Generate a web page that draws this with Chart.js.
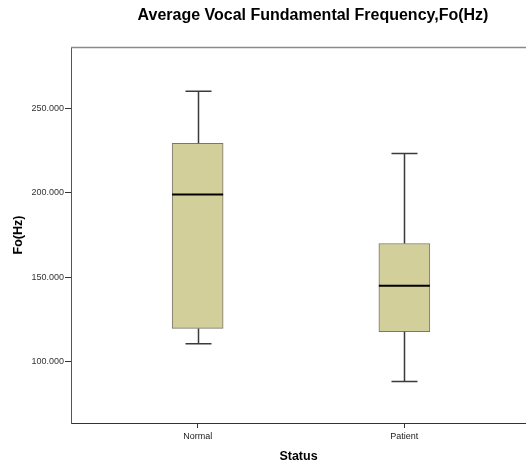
<!DOCTYPE html>
<html>
<head>
<meta charset="utf-8">
<title>Average Vocal Fundamental Frequency</title>
<script src="https://cdn.jsdelivr.net/npm/chart.js@4.4.0/dist/chart.umd.min.js"></script>
<style>
  html, body { margin: 0; padding: 0; background: #fff; }
  #wrap { width: 526px; height: 464px; }
</style>
</head>
<body>
<div id="wrap"><canvas id="boxChart" width="526" height="464"></canvas></div>
<script>
// box plot values
const categories = ['Normal', 'Patient'];
const positions = [1, 2];
const mins = [110.8, 88.5];
const q1s = [119.8, 117.9];
const medians = [199.0, 145.1];
const q3s = [229.3, 170.0];
const maxs = [260.0, 223.2];
const yTicks = [100, 150, 200, 250];

const chartTitle = 'Average Vocal Fundamental Frequency,Fo(Hz)';
const font = "'Liberation Sans', Arial, sans-serif";

const ctx = document.getElementById('boxChart').getContext('2d');

// whiskers, caps and medians on top of the floating bars
const boxExtras = {
  id: 'boxExtras',
  afterDatasetsDraw(chart) {
    const { ctx, scales: { x, y } } = chart;
    const meta = chart.getDatasetMeta(0);
    ctx.save();
    positions.forEach((p, i) => {
      const cx = Math.round(x.getPixelForValue(p)) + 0.5;
      const bar = meta.data[i];
      const half = bar.width / 2;
      const cap = 13;

      ctx.strokeStyle = '#3a3a3a';
      ctx.lineWidth = 1.5;
      ctx.beginPath();
      ctx.moveTo(cx, y.getPixelForValue(q3s[i]));
      ctx.lineTo(cx, y.getPixelForValue(maxs[i]));
      ctx.moveTo(cx, y.getPixelForValue(q1s[i]));
      ctx.lineTo(cx, y.getPixelForValue(mins[i]));
      ctx.moveTo(cx - cap, y.getPixelForValue(maxs[i]));
      ctx.lineTo(cx + cap, y.getPixelForValue(maxs[i]));
      ctx.moveTo(cx - cap, y.getPixelForValue(mins[i]));
      ctx.lineTo(cx + cap, y.getPixelForValue(mins[i]));
      ctx.stroke();

      ctx.strokeStyle = '#000';
      ctx.lineWidth = 2;
      ctx.beginPath();
      ctx.moveTo(bar.x - half, y.getPixelForValue(medians[i]));
      ctx.lineTo(bar.x + half, y.getPixelForValue(medians[i]));
      ctx.stroke();
    });
    ctx.restore();
  }
};

// frame line on top and the chart title
const frame = {
  id: 'frame',
  afterDraw(chart) {
    const { ctx, chartArea } = chart;
    ctx.save();
    ctx.strokeStyle = '#8a8a8a';
    ctx.lineWidth = 1.5;
    ctx.beginPath();
    ctx.moveTo(chartArea.left, chartArea.top + 0.5);
    ctx.lineTo(chart.width, chartArea.top + 0.5);
    ctx.stroke();

    ctx.fillStyle = '#000';
    ctx.font = 'bold 16px ' + font;
    ctx.textAlign = 'center';
    ctx.textBaseline = 'middle';
    ctx.fillText(chartTitle, 313, 16);
    ctx.restore();
  }
};

const boxChart = new Chart(ctx, {
  type: 'bar',
  data: {
    datasets: [{
      data: positions.map((p, i) => ({ x: p, y: [q1s[i], q3s[i]] })),
      backgroundColor: '#d3cf9a',
      borderColor: '#77776a',
      borderWidth: 1,
      borderSkipped: false,
      barThickness: 51
    }]
  },
  options: {
    responsive: false,
    animation: false,
    layout: { padding: { top: 47, left: 0, right: 0, bottom: 0 } },
    plugins: {
      legend: { display: false },
      tooltip: { enabled: false },
      title: { display: false }
    },
    scales: {
      x: {
        type: 'linear',
        offset: false,
        min: 0.3874,
        max: 2.5884,
        afterBuildTicks: (scale) => { scale.ticks = positions.map(v => ({ value: v })); },
        afterFit: (scale) => { scale.height = 41; },
        ticks: {
          autoSkip: false,
          maxRotation: 0,
          padding: 3,
          color: '#222',
          font: { family: font, size: 9 },
          callback: (value) => categories[positions.indexOf(value)] || ''
        },
        grid: { offset: false, drawOnChartArea: false, drawTicks: true, tickLength: 5, color: '#333' },
        border: { display: true, color: '#333', width: 1 },
        title: {
          display: true,
          text: 'Status',
          color: '#000',
          font: { family: font, size: 12.5, weight: 'bold' },
          padding: { top: 0, bottom: 0 }
        }
      },
      y: {
        min: 63.9,
        max: 286.2,
        afterBuildTicks: (scale) => { scale.ticks = yTicks.map(v => ({ value: v })); },
        afterFit: (scale) => { scale.width = 71; },
        ticks: {
          padding: 1,
          color: '#333',
          font: { family: font, size: 9 },
          callback: (value) => value.toFixed(3)
        },
        grid: { drawOnChartArea: false, drawTicks: true, tickLength: 6, color: '#333' },
        border: { display: true, color: '#555', width: 1 },
        title: {
          display: true,
          text: 'Fo(Hz)',
          color: '#000',
          font: { family: font, size: 12.5, weight: 'bold' },
          padding: { top: 11, bottom: 0 }
        }
      }
    }
  },
  plugins: [boxExtras, frame]
});
</script>
</body>
</html>
